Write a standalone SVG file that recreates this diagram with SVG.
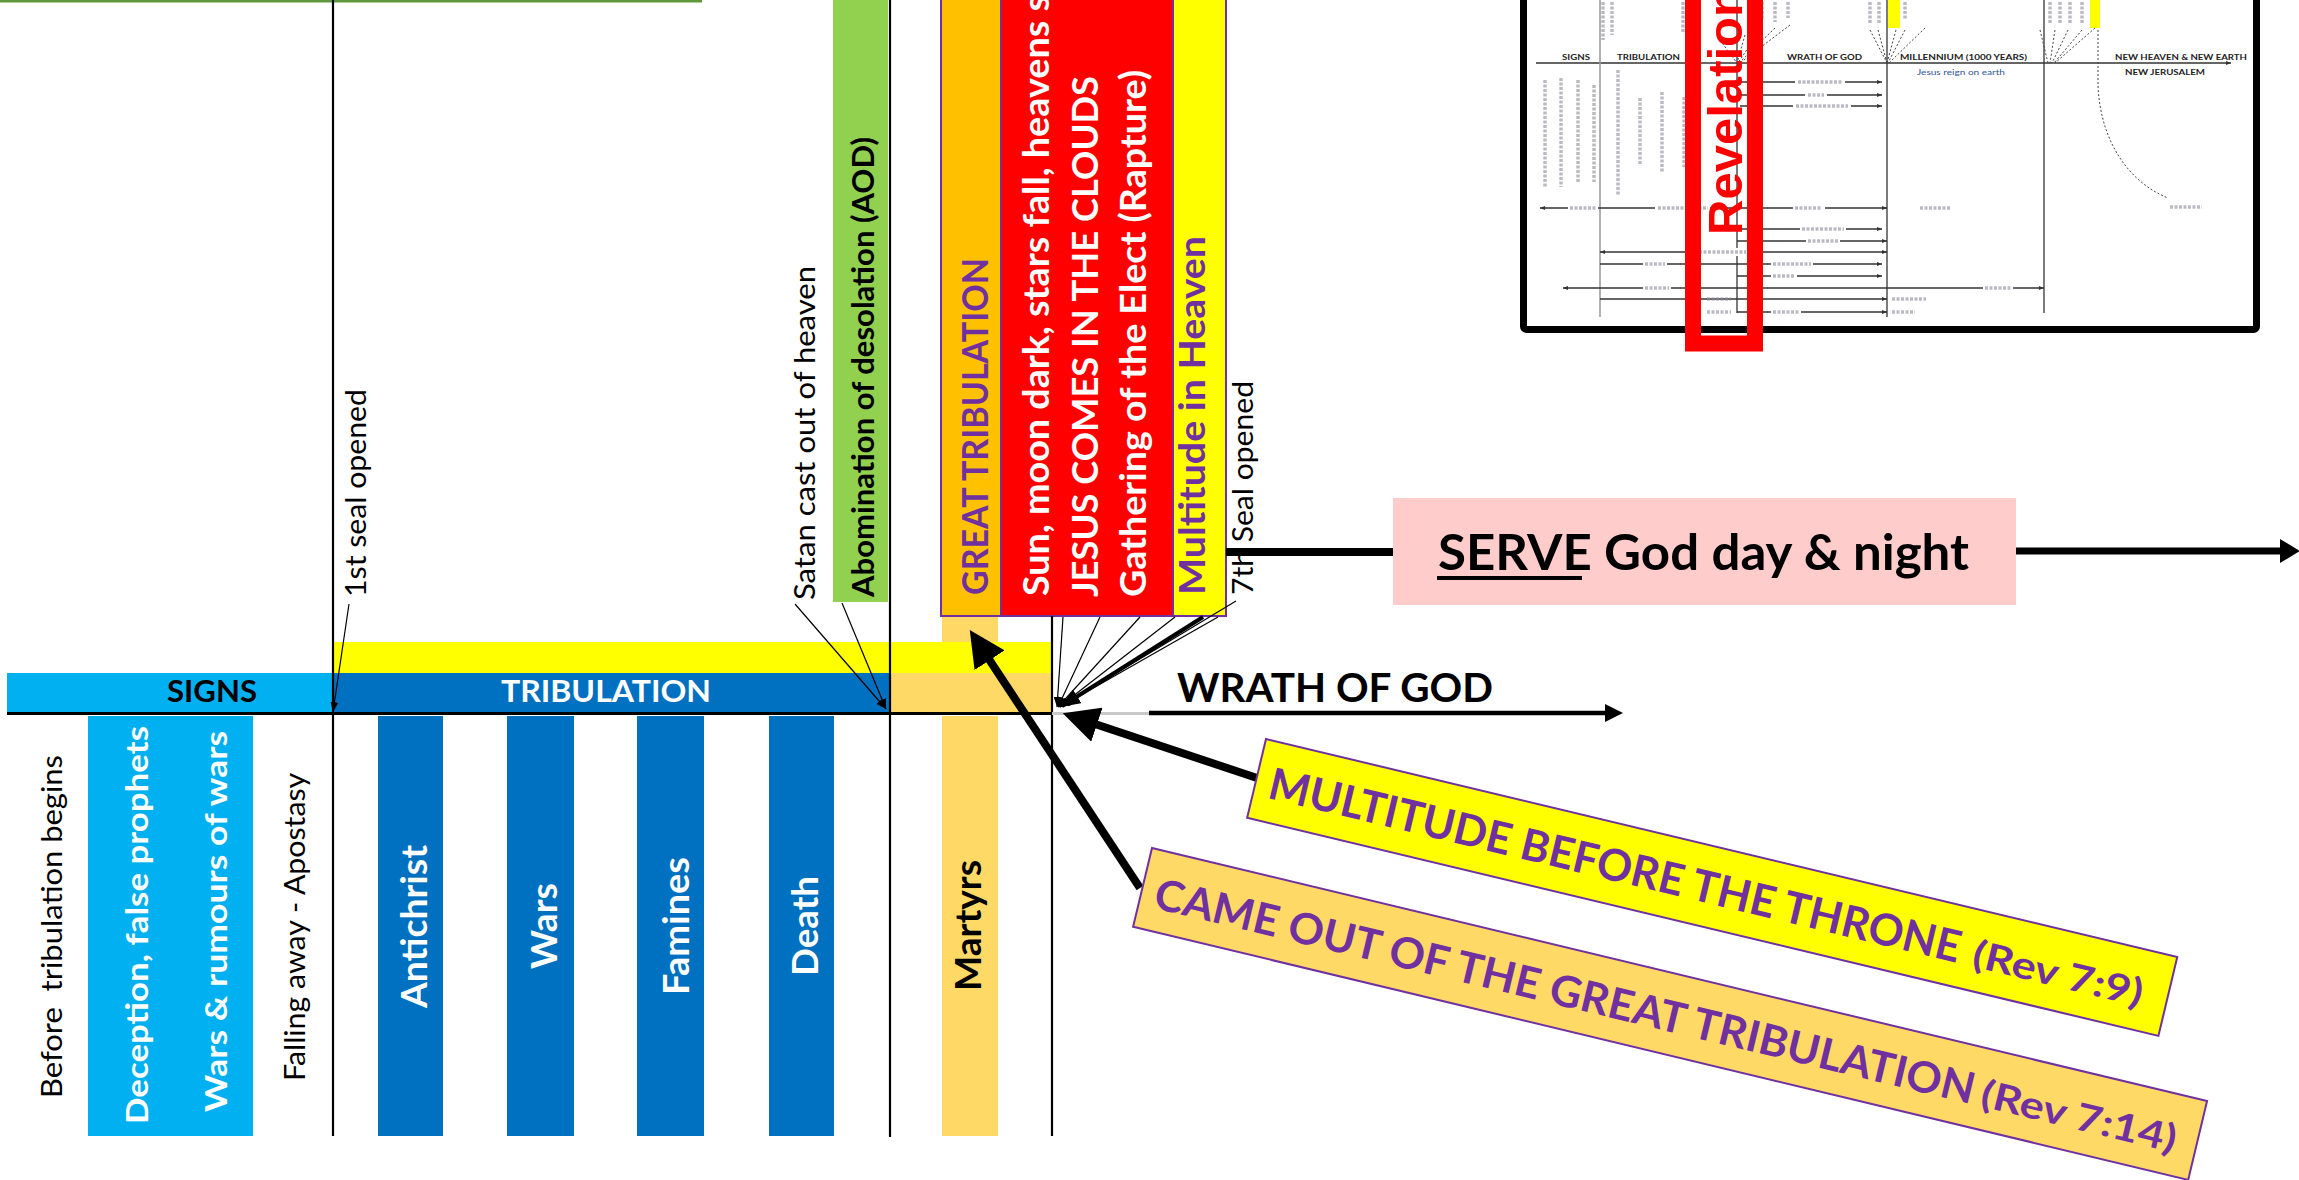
<svg xmlns="http://www.w3.org/2000/svg" width="2299" height="1180" viewBox="0 0 2299 1180">
<style>
text{font-family:Lato,"Liberation Sans",Arial,sans-serif}
.b{font-weight:700}
.w{fill:#fff}
.k{fill:#000}
.p{fill:#7030A0}
.vl{stroke:#000;stroke-width:2.2;fill:none}
.thin{stroke:#000;stroke-width:1.2;fill:none}
.thick{stroke:#000;stroke-width:8;fill:none}
.tl{stroke:#333;stroke-width:1.3;fill:none}
.tg{stroke:#8c8c9c;stroke-width:3.5;fill:none;stroke-dasharray:3 1.5;opacity:.6}
.td{stroke:#444;stroke-width:1;fill:none;stroke-dasharray:2 2}
.tt{fill:#222;font-weight:700}
.box{stroke:#7030A0;stroke-width:2}
</style>
<defs>
<marker id="ah" markerUnits="userSpaceOnUse" viewBox="0 0 36 36" markerWidth="36" markerHeight="36" refX="2" refY="18" orient="auto"><path d="M0,0L36,18L0,36Z"/></marker>
<marker id="md" markerUnits="userSpaceOnUse" viewBox="0 0 20 16" markerWidth="20" markerHeight="16" refX="18" refY="8" orient="auto"><path d="M0,0L20,8L0,16Z"/></marker>
<marker id="sm" markerUnits="userSpaceOnUse" viewBox="0 0 10 8" markerWidth="10" markerHeight="8" refX="10" refY="4" orient="auto"><path d="M0,0L10,4L0,8Z"/></marker>
<marker id="wa" markerUnits="userSpaceOnUse" viewBox="0 0 18 18" markerWidth="18" markerHeight="18" refX="1" refY="9" orient="auto"><path d="M0,0L18,9L0,18Z"/></marker>
<marker id="sa" markerUnits="userSpaceOnUse" viewBox="0 0 20 24" markerWidth="20" markerHeight="24" refX="1" refY="12" orient="auto"><path d="M0,0L20,12L0,24Z"/></marker>
<marker id="tn" markerUnits="userSpaceOnUse" viewBox="0 0 5 4" markerWidth="5" markerHeight="4" refX="5" refY="2" orient="auto"><path d="M0,0L5,2L0,4Z" fill="#333"/></marker>
<marker id="tns" markerUnits="userSpaceOnUse" viewBox="0 0 5 4" markerWidth="5" markerHeight="4" refX="0" refY="2" orient="auto"><path d="M5,0L0,2L5,4Z" fill="#333"/></marker>
</defs>

<!-- top-left green edge -->
<rect id="green-edge" x="0" y="0" width="702" height="2.5" fill="#5E9A3C"/>

<!-- thumbnail of full chart -->
<g id="thumbnail">
<rect x="1523.5" y="-20" width="733" height="349.5" rx="3" fill="#fff" stroke="#000" stroke-width="7"/>
<line class="tl" x1="1536" y1="63" x2="2231" y2="63" stroke-width="2" marker-end="url(#tn)"/>
<line x1="1600" y1="0" x2="1600" y2="317" stroke="#999" stroke-width="1.5"/>
<line class="tl" x1="1737" y1="0" x2="1737" y2="313"/>
<line class="tl" x1="1887" y1="0" x2="1887" y2="317"/>
<line class="tl" x1="2044" y1="0" x2="2044" y2="313"/>
<path class="td" d="M2098,30L2098,85C2100,140 2128,182 2168,198"/>
<rect x="1888" y="0" width="12" height="28" fill="#FFFF00"/>
<rect x="2090" y="0" width="10" height="28" fill="#FFFF00"/>
<path class="td" d="M1720,40L1737,63M1745,35L1737,63M1760,30L1738,63M1775,28L1739,63M1790,25L1740,63"/>
<path class="td" d="M1870,30L1887,63M1878,30L1887,63M1896,30L1887,63M1905,30L1888,63M1925,28L1889,63"/>
<path class="td" d="M2040,30L2048,63M2055,30L2050,63M2068,30L2052,63M2082,30L2054,63M2095,28L2055,63"/>
<path class="tg" d="M1603,2V40M1612,2V35M1683,2V32M1692,2V30M1762,2V20M1775,2V22M1788,2V18M1870,2V24M1879,2V24M1905,2V20M2050,2V24M2060,2V24M2070,2V24M2082,2V24"/>
<text class="tt" x="1562" y="60" font-size="8" textLength="28" lengthAdjust="spacingAndGlyphs">SIGNS</text>
<text class="tt" x="1617" y="60" font-size="8" textLength="63" lengthAdjust="spacingAndGlyphs">TRIBULATION</text>
<text class="tt" x="1787" y="60" font-size="8" textLength="75" lengthAdjust="spacingAndGlyphs">WRATH OF GOD</text>
<text class="tt" x="1900" y="60" font-size="8" textLength="127" lengthAdjust="spacingAndGlyphs">MILLENNIUM (1000 YEARS)</text>
<text class="tt" x="2115" y="60" font-size="8" textLength="132" lengthAdjust="spacingAndGlyphs">NEW HEAVEN &amp; NEW EARTH</text>
<text x="1917" y="75" font-size="7" fill="#2F5597" textLength="88" lengthAdjust="spacingAndGlyphs">Jesus reign on earth</text>
<text class="tt" x="2125" y="75" font-size="7" textLength="80" lengthAdjust="spacingAndGlyphs">NEW JERUSALEM</text>
<path class="tg" d="M1545,80V187M1561,78V187M1578,80V182M1594,85V182M1618,70V195M1640,98V165M1662,92V172M1684,97V167"/>
<g class="tl" stroke-width="1">
<line x1="1740" y1="82" x2="1882" y2="82" marker-end="url(#tn)"/>
<line x1="1740" y1="95" x2="1882" y2="95" marker-end="url(#tn)"/>
<line x1="1740" y1="106" x2="1882" y2="106" marker-end="url(#tn)"/>
<line x1="1540" y1="208" x2="1887" y2="208" marker-start="url(#tns)" marker-end="url(#tn)"/>
<line x1="1737" y1="229" x2="1882" y2="229" marker-end="url(#tn)"/>
<line x1="1737" y1="241" x2="1887" y2="241" marker-end="url(#tn)"/>
<line x1="1600" y1="252" x2="1887" y2="252" marker-start="url(#tns)" marker-end="url(#tn)"/>
<line x1="1600" y1="264" x2="1882" y2="264" marker-end="url(#tn)"/>
<line x1="1737" y1="276" x2="1882" y2="276" marker-end="url(#tn)"/>
<line x1="1563" y1="288" x2="2044" y2="288" marker-start="url(#tns)" marker-end="url(#tn)"/>
<line x1="1600" y1="299" x2="1887" y2="299" marker-end="url(#tn)"/>
<line x1="1737" y1="312" x2="1887" y2="312" marker-end="url(#tn)"/>
</g>
<g fill="#fff">
<rect x="1795" y="78" width="50" height="8"/><rect x="1805" y="91" width="22" height="8"/><rect x="1793" y="102" width="58" height="8"/>
<rect x="1568" y="204" width="30" height="8"/><rect x="1655" y="204" width="55" height="8"/><rect x="1793" y="204" width="32" height="8"/>
<rect x="1800" y="225" width="46" height="8"/><rect x="1806" y="237" width="34" height="8"/><rect x="1688" y="248" width="60" height="8"/>
<rect x="1643" y="260" width="24" height="8"/><rect x="1771" y="260" width="42" height="8"/><rect x="1771" y="272" width="26" height="8"/>
<rect x="1643" y="284" width="28" height="8"/><rect x="1983" y="284" width="30" height="8"/><rect x="1771" y="308" width="30" height="8"/>
</g>
<path class="tg" stroke-width="3" d="M1798,82H1842M1808,95H1824M1796,106H1848M1570,208H1596M1658,208H1708M1795,208H1822M1802,229H1844M1808,241H1838M1690,252H1746M1645,264H1665M1773,264H1811M1773,276H1795M1645,288H1669M1985,288H2011M1707,299H1731M1892,299H1926M1707,312H1731M1773,312H1799M1892,312H1915M2170,207H2202M1920,208H1950"/>
<g id="revelation-highlight">
<rect x="1693" y="-20" width="62" height="363.5" fill="none" stroke="#FF0000" stroke-width="16"/>
<text class="b" fill="#FF0000" font-size="49" transform="translate(1742,235) rotate(-90)" style="font-family:'Liberation Sans',Arial,sans-serif" textLength="248" lengthAdjust="spacingAndGlyphs">Revelation</text>
</g>
</g>

<!-- upper bands -->
<rect id="yellow-band" x="333" y="642" width="718" height="31" fill="#FFFF00"/>
<g id="signs-bar">
<rect x="7" y="673" width="326" height="41" fill="#00B0F0"/>
<text class="b k" x="167" y="702" font-size="31" textLength="90" lengthAdjust="spacingAndGlyphs">SIGNS</text>
</g>
<g id="tribulation-bar">
<rect x="333" y="673" width="557" height="41" fill="#0070C0"/>
<text class="b w" x="501" y="702" font-size="31" textLength="210" lengthAdjust="spacingAndGlyphs">TRIBULATION</text>
</g>
<rect id="martyr-band" x="890" y="673" width="161" height="40" fill="#FFD966"/>
<rect id="martyr-top" x="942" y="616" width="56" height="26" fill="#FFD966"/>

<!-- columns below axis -->
<g id="col-signs">
<rect x="88" y="716" width="165" height="420" fill="#00B0F0"/>
<text class="b w" font-size="31" transform="translate(148,1124) rotate(-90)" textLength="398" lengthAdjust="spacingAndGlyphs">Deception, false prophets</text>
<text class="b w" font-size="31" transform="translate(227,1112) rotate(-90)" textLength="381" lengthAdjust="spacingAndGlyphs">Wars &amp; rumours of wars</text>
</g>
<g id="before-label"><text class="k" font-size="29" style="white-space:pre" transform="translate(62,1098) rotate(-90)" textLength="343" lengthAdjust="spacingAndGlyphs">Before  tribulation begins</text></g>
<g id="falling-label"><text class="k" font-size="29" transform="translate(305,1081) rotate(-90)" textLength="308" lengthAdjust="spacingAndGlyphs">Falling away - Apostasy</text></g>
<g id="col-antichrist"><rect x="378" y="716" width="65" height="420" fill="#0070C0"/>
<text class="b w" font-size="37" transform="translate(427,1008) rotate(-90)" textLength="163" lengthAdjust="spacingAndGlyphs">Antichrist</text></g>
<g id="col-wars"><rect x="507" y="716" width="67" height="420" fill="#0070C0"/>
<text class="b w" font-size="37" transform="translate(557,969) rotate(-90)" textLength="86" lengthAdjust="spacingAndGlyphs">Wars</text></g>
<g id="col-famines"><rect x="637" y="716" width="67" height="420" fill="#0070C0"/>
<text class="b w" font-size="37" transform="translate(689,995) rotate(-90)" textLength="138" lengthAdjust="spacingAndGlyphs">Famines</text></g>
<g id="col-death"><rect x="769" y="716" width="65" height="420" fill="#0070C0"/>
<text class="b w" font-size="37" transform="translate(818,976) rotate(-90)" textLength="100" lengthAdjust="spacingAndGlyphs">Death</text></g>
<g id="col-martyrs"><rect x="942" y="716" width="56" height="420" fill="#FFD966"/>
<text class="b k" font-size="37" transform="translate(981,991) rotate(-90)" textLength="131" lengthAdjust="spacingAndGlyphs">Martyrs</text></g>

<!-- upper vertical boxes -->
<g id="aod-box">
<rect x="833" y="-5" width="55" height="607" fill="#92D050"/>
<text class="b k" font-size="30" transform="translate(874,597) rotate(-90)" textLength="460" lengthAdjust="spacingAndGlyphs">Abomination of desolation (AOD)</text>
</g>
<g id="great-trib-box">
<rect class="box" x="941" y="-5" width="60" height="621" fill="#FFC000"/>
<text class="b p" font-size="37" transform="translate(988,595) rotate(-90)" textLength="337" lengthAdjust="spacingAndGlyphs">GREAT TRIBULATION</text>
</g>
<g id="jesus-box">
<rect class="box" x="1001" y="-5" width="172" height="621" fill="#FF0000"/>
<text class="b w" font-size="37" transform="translate(1049,596) rotate(-90)" textLength="601" lengthAdjust="spacingAndGlyphs">Sun, moon dark, stars fall, heavens s</text>
<text class="b w" font-size="37" transform="translate(1098,597) rotate(-90)" textLength="521" lengthAdjust="spacingAndGlyphs">JESUS COMES IN THE CLOUDS</text>
<text class="b w" font-size="37" transform="translate(1146,597) rotate(-90)" textLength="527" lengthAdjust="spacingAndGlyphs">Gathering of the Elect (Rapture)</text>
</g>
<g id="heaven-box">
<rect class="box" x="1173" y="-5" width="53" height="621" fill="#FFFF00"/>
<text class="b p" font-size="37" transform="translate(1205,595) rotate(-90)" textLength="359" lengthAdjust="spacingAndGlyphs">Multitude in Heaven</text>
</g>

<!-- SERVE box -->
<g id="serve-box">
<rect x="1393" y="498" width="623" height="107" fill="#FFCCCC"/>
<text class="b k" x="1438" y="570" font-size="49" textLength="531" lengthAdjust="spacingAndGlyphs">SERVE God day &amp; night</text>
<rect x="1437" y="576" width="145" height="4" fill="#000"/>
</g>

<!-- connectors -->
<g id="connectors">
<line class="vl" x1="333" y1="0" x2="333" y2="1136"/>
<line class="vl" x1="890" y1="0" x2="890" y2="1137"/>
<line class="vl" x1="1052" y1="616" x2="1052" y2="1136"/>
<line x1="7" y1="713.5" x2="1052" y2="713.5" stroke="#000" stroke-width="3"/>
<line x1="1052" y1="713.5" x2="1150" y2="713.5" stroke="#c8c8c8" stroke-width="3"/>
<line x1="1149" y1="713" x2="1606" y2="713" stroke="#000" stroke-width="4.5" marker-end="url(#wa)"/>
<line x1="1226" y1="552" x2="1393" y2="552" stroke="#000" stroke-width="8"/>
<line x1="2016" y1="551" x2="2281" y2="551" stroke="#000" stroke-width="7" marker-end="url(#sa)"/>
<line class="thin" x1="349" y1="604" x2="333" y2="712" marker-end="url(#sm)"/>
<line class="thin" x1="795" y1="604" x2="886" y2="709" marker-end="url(#sm)"/>
<line class="thin" x1="842" y1="603" x2="886" y2="709" marker-end="url(#sm)"/>
<line class="thin" x1="1063" y1="617" x2="1057" y2="707" marker-end="url(#sm)"/>
<line class="thin" x1="1100" y1="617" x2="1058" y2="707" marker-end="url(#sm)"/>
<line class="thin" x1="1140" y1="617" x2="1058" y2="707" marker-end="url(#sm)"/>
<line class="thin" x1="1175" y1="617" x2="1059" y2="707" marker-end="url(#sm)"/>
<line class="thin" x1="1218" y1="617" x2="1060" y2="707" marker-end="url(#sm)"/>
<line class="thin" x1="1236" y1="601" x2="1060" y2="707" marker-end="url(#sm)"/>
<line x1="1203" y1="617" x2="1062" y2="706" stroke="#000" stroke-width="4" marker-end="url(#md)"/>
<line class="thick" x1="1140" y1="888" x2="988.5" y2="658.5" marker-end="url(#ah)"/>
<line class="thick" x1="1257" y1="778" x2="1095" y2="724" marker-end="url(#ah)"/>
</g>

<!-- thin-line labels -->
<g id="seal1-label"><text class="k" font-size="28" transform="translate(366,597) rotate(-90)" textLength="208" lengthAdjust="spacingAndGlyphs">1st seal opened</text></g>
<g id="satan-label"><text class="k" font-size="28" transform="translate(815,600) rotate(-90)" textLength="334" lengthAdjust="spacingAndGlyphs">Satan cast out of heaven</text></g>
<g id="seal7-label"><text class="k" font-size="28" transform="translate(1253,595) rotate(-90)" textLength="214" lengthAdjust="spacingAndGlyphs">7th Seal opened</text></g>

<g id="wrath-label"><text class="b k" x="1177" y="702" font-size="40" textLength="316" lengthAdjust="spacingAndGlyphs">WRATH OF GOD</text></g>

<!-- rotated boxes -->
<g id="multitude-box" transform="translate(1266,739) rotate(13.46)">
<rect class="box" x="0" y="0" width="937" height="81" fill="#FFFF00"/>
<text class="b p" x="14" y="57" font-size="44" textLength="710" lengthAdjust="spacingAndGlyphs">MULTITUDE BEFORE THE THRONE</text>
<text class="b p" x="738" y="57" font-size="38" textLength="174" lengthAdjust="spacingAndGlyphs">(Rev 7:9)</text>
</g>
<g id="came-out-box" transform="translate(1152,848) rotate(13.49)">
<rect class="box" x="0" y="0" width="1085" height="81" fill="#FFD966"/>
<text class="b p" x="14" y="58" font-size="43" textLength="842" lengthAdjust="spacingAndGlyphs">CAME OUT OF THE GREAT TRIBULATION</text>
<text class="b p" x="864" y="58" font-size="38" textLength="200" lengthAdjust="spacingAndGlyphs">(Rev 7:14)</text>
</g>
</svg>
